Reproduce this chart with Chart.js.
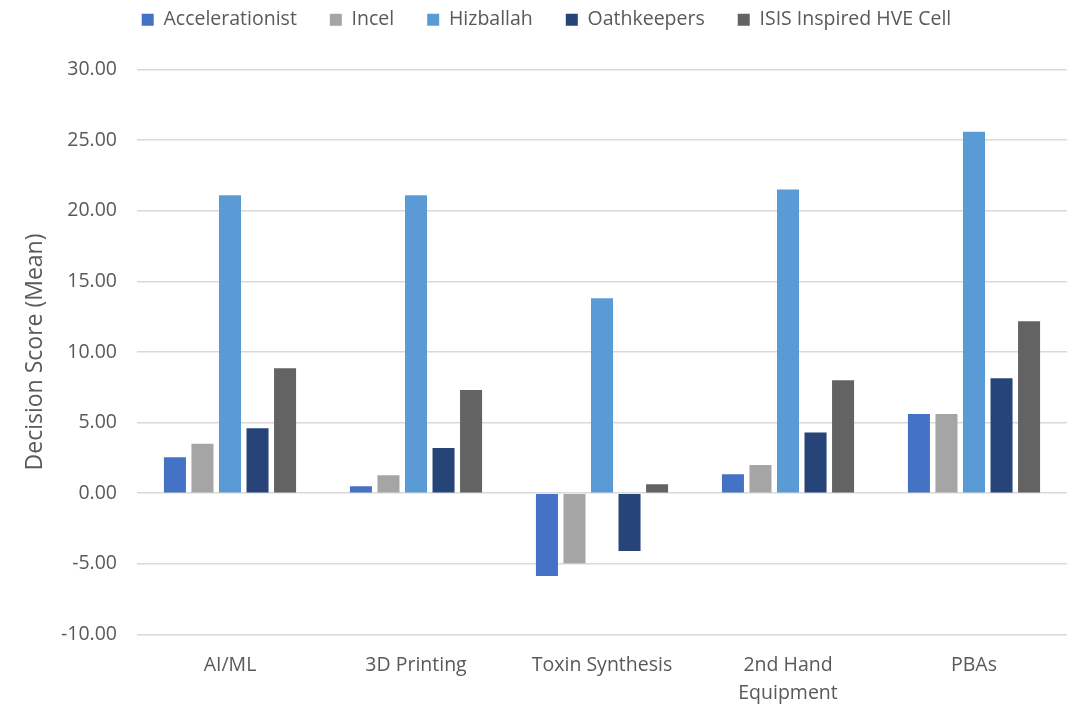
<!DOCTYPE html>
<html>
<head>
<meta charset="utf-8">
<script src="https://cdn.jsdelivr.net/npm/chart.js@4"></script>
<style>
  html, body { margin: 0; padding: 0; background: #fff; }
  #wrap { width: 1077px; height: 704px; }
</style>
</head>
<body>
<div id="wrap"><canvas id="chart"></canvas></div>
<script>
// categories and series
const categories = ['AI/ML', '3D Printing', 'Toxin Synthesis', ['2nd Hand', 'Equipment'], 'PBAs'];
const accelerationist = [2.55, 0.50, -5.87, 1.34, 5.60];
const incel = [3.50, 1.27, -4.95, 2.00, 5.60];
const hizballah = [21.10, 21.10, 13.80, 21.50, 25.60];
const oathkeepers = [4.60, 3.20, -4.10, 4.30, 8.14];
const isisCell = [8.85, 7.30, 0.64, 8.00, 12.17];

const FONT = '"Open Sans", sans-serif';
const TXT = '#595959';

function ds(label, data, color) {
    return {
        label: label,
        data: data,
        backgroundColor: color,
        borderWidth: 0,
        barPercentage: 0.8,
        categoryPercentage: 0.74
    };
}

// give the legend extra room below it, and nudge it right a little
const legendGap = {
    id: 'legendGap',
    beforeInit(chart) {
        const origFit = chart.legend.fit;
        chart.legend.fit = function () {
            origFit.call(this);
            this.height += 30;
        };
    },
    afterLayout(chart) {
        chart.legend.left += 13;
        chart.legend.right += 13;
    }
};

new Chart(document.getElementById('chart'), {
    type: 'bar',
    data: {
        labels: categories,
        datasets: [
            ds('Accelerationist', accelerationist, '#4472C4'),
            ds('Incel', incel, '#A5A5A5'),
            ds('Hizballah', hizballah, '#5B9BD5'),
            ds('Oathkeepers', oathkeepers, '#264478'),
            ds('ISIS Inspired HVE Cell', isisCell, '#636363')
        ]
    },
    options: {
        responsive: true,
        maintainAspectRatio: false,
        animation: false,
        layout: { padding: { left: 0, right: 10, top: -23, bottom: -13 } },
        plugins: {
            legend: {
                position: 'top',
                labels: {
                    color: TXT,
                    font: { family: FONT, size: 19.5 },
                    boxWidth: 12,
                    boxHeight: 12,
                    padding: 33
                }
            },
            tooltip: { enabled: false }
        },
        scales: {
            x: {
                grid: { display: false },
                border: { display: false },
                ticks: {
                    color: TXT,
                    font: { family: FONT, size: 19.5, lineHeight: 1.45 },
                    maxRotation: 0,
                    autoSkip: false,
                    padding: 9
                }
            },
            y: {
                min: -10,
                max: 30,
                afterFit(scale) { scale.width = 137; },
                grid: { color: '#D9D9D9', lineWidth: 1.5, drawTicks: false },
                border: { display: false },
                ticks: {
                    stepSize: 5,
                    color: TXT,
                    font: { family: FONT, size: 19.5 },
                    padding: 20,
                    callback: v => v.toFixed(2)
                },
                title: {
                    display: true,
                    text: 'Decision Score (Mean)',
                    color: TXT,
                    font: { family: FONT, size: 23 },
                    padding: { top: 22, bottom: 0 }
                }
            }
        }
    },
    plugins: [legendGap]
});
</script>
</body>
</html>
